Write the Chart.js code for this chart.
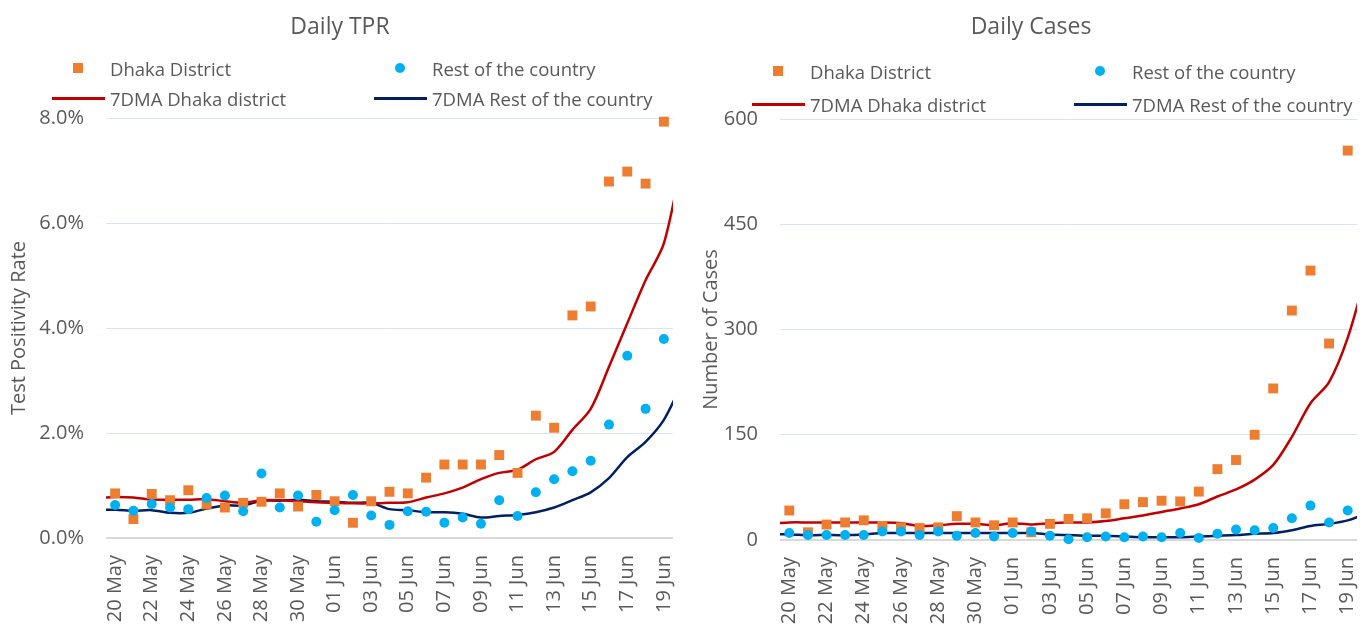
<!DOCTYPE html>
<html>
<head>
<meta charset="utf-8">
<script src="https://cdn.jsdelivr.net/npm/chart.js@4.4.1/dist/chart.umd.min.js"></script>
<style>
  html, body { margin: 0; padding: 0; background: #fff; overflow: hidden; }
  #wrap { position: relative; width: 1364px; height: 626px; }
  canvas { position: absolute; top: 0; }
  #tprChart { left: 0; }
  #casesChart { left: 682px; }
  .legend { position: absolute; font-family: 'Open Sans', sans-serif; font-size: 18.5px; color: #595959; }
  .legend .item { position: absolute; display: flex; align-items: center; white-space: nowrap; height: 30px; }
  .legend .mark { width: 54px; height: 30px; display: flex; align-items: center; justify-content: center; margin-right: 5px; }
  #tprLegend { left: 51px; top: 53px; }
  #casesLegend { left: 751px; top: 56px; }
</style>
</head>
<body>
<div id="wrap">
  <canvas id="tprChart" width="682" height="626"></canvas>
  <canvas id="casesChart" width="682" height="626"></canvas>
  <div id="tprLegend" class="legend"></div>
  <div id="casesLegend" class="legend"></div>
</div>
<script>
// 19 May and 20 Jun sit just outside the visible range, only so the
// moving averages run to the plot edges like in the source figure
var dates = ['19 May', '20 May', '21 May', '22 May', '23 May', '24 May', '25 May', '26 May',
  '27 May', '28 May', '29 May', '30 May', '31 May', '01 Jun', '02 Jun', '03 Jun', '04 Jun',
  '05 Jun', '06 Jun', '07 Jun', '08 Jun', '09 Jun', '10 Jun', '11 Jun', '12 Jun', '13 Jun',
  '14 Jun', '15 Jun', '16 Jun', '17 Jun', '18 Jun', '19 Jun', '20 Jun'];
var tickLabels = ['20 May', '22 May', '24 May', '26 May', '28 May', '30 May', '01 Jun', '03 Jun',
  '05 Jun', '07 Jun', '09 Jun', '11 Jun', '13 Jun', '15 Jun', '17 Jun', '19 Jun'];

// Daily TPR (%)
var tprDhaka = [null, 0.85, 0.36, 0.84, 0.72, 0.91, 0.64, 0.58, 0.67, 0.69, 0.85, 0.60, 0.82,
  0.70, 0.29, 0.70, 0.88, 0.85, 1.15, 1.40, 1.40, 1.40, 1.58, 1.24, 2.33, 2.10, 4.24, 4.41,
  6.79, 6.98, 6.75, 7.93, null];
var tprRest = [null, 0.63, 0.52, 0.65, 0.58, 0.55, 0.76, 0.81, 0.51, 1.23, 0.58, 0.81, 0.31,
  0.53, 0.82, 0.43, 0.25, 0.51, 0.50, 0.29, 0.39, 0.27, 0.72, 0.42, 0.87, 1.12, 1.27, 1.47,
  2.16, 3.47, 2.46, 3.79, null];
var tpr7Dhaka = [0.76, 0.78, 0.77, 0.73, 0.73, 0.73, 0.74, 0.70, 0.67, 0.72, 0.72, 0.70, 0.68,
  0.67, 0.66, 0.66, 0.67, 0.68, 0.77, 0.85, 0.96, 1.12, 1.24, 1.30, 1.50, 1.64, 2.06, 2.46,
  3.26, 4.09, 4.91, 5.61, 7.2];
var tpr7Rest = [0.53, 0.54, 0.52, 0.53, 0.48, 0.48, 0.56, 0.62, 0.62, 0.71, 0.71, 0.73, 0.70,
  0.69, 0.67, 0.67, 0.55, 0.53, 0.49, 0.49, 0.46, 0.39, 0.42, 0.44, 0.49, 0.58, 0.72, 0.87,
  1.14, 1.54, 1.83, 2.25, 2.95];

// Daily cases
var casesDhaka = [null, 42, 11, 22, 25, 28, 20, 18, 17, 18, 34, 25, 21, 25, 11, 23, 30, 31, 38,
  51, 54, 56, 55, 69, 101, 114, 150, 216, 327, 384, 280, 555, null];
var casesRest = [null, 10, 7, 7, 7, 7, 12, 12, 7, 12, 6, 10, 5, 10, 12, 6, 1, 4, 5, 4, 5, 4, 10,
  3, 9, 15, 14, 17, 31, 49, 25, 42, null];
var cases7Dhaka = [23, 25, 25, 25, 25, 25, 25, 24, 20, 21, 23, 23, 21, 24, 22, 24, 25, 25, 27,
  31, 35, 40, 45, 51, 62, 72, 86, 107, 147, 195, 225, 288, 380];
var cases7Rest = [8, 8, 7, 7, 7, 8, 10, 10, 10, 10, 10, 10, 10, 10, 10, 8, 7, 6, 6, 5, 4, 4, 4,
  5, 6, 7, 9, 10, 14, 20, 23, 28, 38];

var ORANGE = '#ED7D31', BLUE = '#00B0F0', RED = '#C00000', NAVY = '#002060';
var TEXT = '#595959', GRID = '#dae3f0', AXIS = '#d9d9d9';
var FONT = "'Open Sans', sans-serif";

// x is the index into dates; half a day of room on each side like Excel
var xFirst = dates.indexOf('20 May'), xLast = dates.indexOf('19 Jun');

function pts(arr) {
  return arr.map(function(v, i) { return { x: i, y: v }; });
}

// legend as html so the two columns line up like in the original
var htmlLegend = {
  id: 'htmlLegend',
  afterUpdate: function(chart, args, opts) {
    var box = document.getElementById(opts.containerID);
    box.innerHTML = '';
    chart.data.datasets.forEach(function(ds, i) {
      var item = document.createElement('div');
      item.className = 'item';
      item.style.left = (i % 2) * opts.colGap + 'px';
      item.style.top = Math.floor(i / 2) * opts.rowGap + 'px';
      var mark = document.createElement('span');
      mark.className = 'mark';
      var sym = document.createElement('span');
      if (ds.showLine === false) {
        sym.style.width = '10px';
        sym.style.height = '10px';
        sym.style.background = ds.backgroundColor;
        if (ds.pointStyle === 'circle') sym.style.borderRadius = '50%';
      } else {
        sym.style.width = '53px';
        sym.style.height = '3px';
        sym.style.background = ds.borderColor;
      }
      mark.appendChild(sym);
      item.appendChild(mark);
      item.appendChild(document.createTextNode(ds.label));
      box.appendChild(item);
    });
  }
};

function makeChart(id, c) {
  var clip = { left: 0, top: 10, right: 0, bottom: 10 };
  return new Chart(document.getElementById(id), {
    type: 'line',
    data: {
      datasets: [
        { label: 'Dhaka District', data: pts(c.dhaka), showLine: false, pointStyle: 'rect',
          pointRadius: 7, pointBorderWidth: 0, backgroundColor: ORANGE, borderColor: ORANGE,
          order: 1, clip: clip },
        { label: 'Rest of the country', data: pts(c.rest), showLine: false, pointStyle: 'circle',
          pointRadius: 5, pointBorderWidth: 0, backgroundColor: BLUE, borderColor: BLUE,
          order: 0, clip: clip },
        { label: '7DMA Dhaka district', data: pts(c.ma1), borderColor: RED, backgroundColor: RED,
          borderWidth: 2.5, pointRadius: 0, tension: 0.3, fill: false, order: 2, clip: clip },
        { label: '7DMA Rest of the country', data: pts(c.ma2), borderColor: NAVY, backgroundColor: NAVY,
          borderWidth: 2.5, pointRadius: 0, tension: 0.3, fill: false, order: 3, clip: clip }
      ]
    },
    options: {
      responsive: false,
      animation: false,
      events: [],
      layout: { padding: { left: c.padLeft, right: c.padRight, top: 0, bottom: 0 } },
      plugins: {
        legend: { display: false },
        tooltip: { enabled: false },
        title: {
          display: true, text: c.title, color: TEXT,
          font: { family: FONT, size: 23, weight: 'normal' },
          padding: { top: 14, bottom: c.titleGap }
        },
        htmlLegend: { containerID: c.legend, colGap: 322, rowGap: c.rowGap }
      },
      scales: {
        x: {
          type: 'linear',
          min: xFirst - 0.5, max: xLast + 0.5,
          grid: { display: false, drawTicks: false },
          border: { display: false },
          afterBuildTicks: function(s) {
            var t = [];
            for (var i = xFirst; i <= xLast; i++) t.push({ value: i });
            s.ticks = t;
          },
          ticks: {
            autoSkip: false, minRotation: 90, maxRotation: 90, padding: 17, color: TEXT,
            font: { family: FONT, size: 20 },
            callback: function(v) {
              var l = dates[v];
              return tickLabels.indexOf(l) >= 0 ? l : '';
            }
          },
          afterFit: function(s) { s.height = c.xHeight; s.paddingLeft = 0; s.paddingRight = 0; }
        },
        y: {
          min: 0, max: c.yMax,
          grid: {
            drawTicks: false,
            color: function(ctx) { return ctx.tick && ctx.tick.value === 0 ? AXIS : GRID; },
            lineWidth: function(ctx) { return ctx.tick && ctx.tick.value === 0 ? 2 : 1; }
          },
          border: { display: false },
          ticks: {
            stepSize: c.yStep, padding: 22, color: TEXT,
            font: { family: FONT, size: 20 },
            callback: c.yFmt
          },
          title: {
            display: true, text: c.yTitle, color: TEXT,
            font: { family: FONT, size: 20 },
            padding: { top: c.yTitlePad, bottom: 0 }
          },
          afterFit: function(s) { s.width = c.yWidth; }
        }
      }
    },
    plugins: [htmlLegend]
  });
}

makeChart('tprChart', {
  dhaka: tprDhaka, rest: tprRest, ma1: tpr7Dhaka, ma2: tpr7Rest,
  title: 'Daily TPR', legend: 'tprLegend', rowGap: 30, titleGap: 76.4,
  padLeft: 7, padRight: 9, yWidth: 99, yTitlePad: 0, xHeight: 88,
  yMax: 8, yStep: 2, yTitle: 'Test Positivity Rate',
  yFmt: function(v) { return v.toFixed(1) + '%'; }
});

makeChart('casesChart', {
  dhaka: casesDhaka, rest: casesRest, ma1: cases7Dhaka, ma2: cases7Rest,
  title: 'Daily Cases', legend: 'casesLegend', rowGap: 33, titleGap: 77.4,
  padLeft: 16, padRight: 0, yWidth: 82, yTitlePad: 1, xHeight: 86,
  yMax: 600, yStep: 150, yTitle: 'Number of Cases',
  yFmt: function(v) { return v; }
});
</script>
</body>
</html>
